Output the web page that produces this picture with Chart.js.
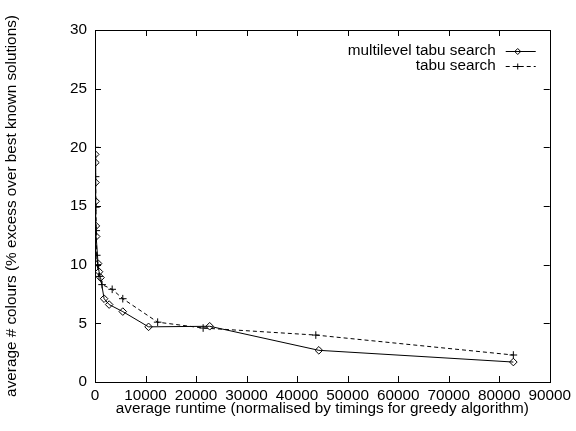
<!DOCTYPE html>
<html>
<head>
<meta charset="utf-8">
<script src="https://cdn.jsdelivr.net/npm/chart.js@4.4.1/dist/chart.umd.min.js"></script>
<style>
  html, body { margin: 0; padding: 0; background: #fff; }
  canvas { display: block; }
</style>
</head>
<body>
<canvas id="chart" width="576" height="431"></canvas>
<script>
// --- data ---
var multiX = [50, 80, 100, 130, 180, 230, 600, 800, 1100, 1800, 2800, 5500, 10600, 22700, 44300, 82800];
var multiY = [19.4, 18.7, 17.0, 15.4, 13.3, 12.4, 10.1, 9.4, 8.9, 7.1, 6.6, 6.0, 4.7, 4.75, 2.7, 1.7];
var tabuX = [60, 120, 180, 250, 350, 500, 800, 1400, 3400, 5500, 12400, 21400, 43700, 82800];
var tabuY = [20.0, 17.5, 14.9, 12.9, 10.8, 10.0, 9.0, 8.3, 7.9, 7.1, 5.1, 4.6, 4.0, 2.3];
var seriesNames = ['multilevel tabu search', 'tabu search'];
var xTitle = 'average runtime (normalised by timings for greedy algorithm)';
var yTitle = 'average # colours (% excess over best known solutions)';

var FONT = "'Liberation Sans', Arial, Helvetica, sans-serif";
var FS = 15.3;

function pts(xs, ys) {
  return xs.map(function (x, i) { return { x: x, y: ys[i] }; });
}

// frame + gnuplot style inner ticks + legend
var gnuplotFrame = {
  id: 'gnuplotFrame',
  afterDraw: function (chart) {
    var ctx = chart.ctx, a = chart.chartArea;
    var xs = chart.scales.x, ys = chart.scales.y;
    var tl = 6;
    ctx.save();
    ctx.strokeStyle = '#000';
    ctx.lineWidth = 1;
    ctx.strokeRect(Math.round(a.left) + 0.5, Math.round(a.top) + 0.5,
      Math.round(a.right - a.left), Math.round(a.bottom - a.top));
    ctx.beginPath();
    xs.ticks.forEach(function (t) {
      var px = Math.round(xs.getPixelForValue(t.value)) + 0.5;
      ctx.moveTo(px, a.bottom); ctx.lineTo(px, a.bottom - tl);
      ctx.moveTo(px, a.top); ctx.lineTo(px, a.top + tl);
    });
    ys.ticks.forEach(function (t) {
      var py = Math.round(ys.getPixelForValue(t.value)) + 0.5;
      ctx.moveTo(a.left, py); ctx.lineTo(a.left + tl, py);
      ctx.moveTo(a.right, py); ctx.lineTo(a.right - tl, py);
    });
    ctx.stroke();

    // legend, text right aligned, sample to the right
    ctx.font = FS + 'px ' + FONT;
    ctx.fillStyle = '#000';
    ctx.textAlign = 'right';
    ctx.textBaseline = 'middle';
    chart.data.datasets.forEach(function (ds, i) {
      var y = 51 + i * 15;
      ctx.fillText(ds.label, a.right - 54, y);
      ctx.beginPath();
      ctx.setLineDash(ds.borderDash || []);
      ctx.moveTo(a.right - 44, y + 0.5);
      ctx.lineTo(a.right - 14, y + 0.5);
      ctx.stroke();
      ctx.setLineDash([]);
      ctx.fillStyle = 'rgba(0,0,0,0)';
      Chart.helpers.drawPoint(ctx, {
        pointStyle: ds.pointStyle, radius: ds.pointRadius - 0.8,
        borderWidth: 1, rotation: 0
      }, a.right - 32, y + 0.5);
      ctx.fillStyle = '#000';
    });
    ctx.restore();
  }
};

new Chart(document.getElementById('chart'), {
  type: 'scatter',
  data: {
    datasets: [{
      label: seriesNames[0],
      data: pts(multiX, multiY),
      showLine: true,
      borderColor: '#000',
      backgroundColor: 'rgba(0,0,0,0)',
      borderWidth: 1,
      pointStyle: 'rectRot',
      pointRadius: 3.8,
      pointBorderWidth: 1,
      tension: 0
    }, {
      label: seriesNames[1],
      data: pts(tabuX, tabuY),
      showLine: true,
      borderColor: '#000',
      backgroundColor: 'rgba(0,0,0,0)',
      borderWidth: 1,
      borderDash: [4, 3],
      pointStyle: 'cross',
      pointRadius: 3.8,
      pointBorderWidth: 1,
      tension: 0
    }]
  },
  options: {
    responsive: false,
    animation: false,
    devicePixelRatio: 1,
    layout: { padding: { left: 0, top: 30, right: 26, bottom: 0 } },
    plugins: { legend: { display: false }, tooltip: { enabled: false } },
    scales: {
      x: {
        type: 'linear', min: 0, max: 90000,
        afterFit: function (s) { s.height = 49; },
        grid: { drawOnChartArea: false, drawTicks: false },
        border: { display: false },
        ticks: {
          stepSize: 10000, autoSkip: false, maxRotation: 0, padding: 5,
          color: '#000', font: { family: FONT, size: FS },
          callback: function (v) { return String(v); }
        },
        title: {
          display: true, text: xTitle, color: '#000',
          font: { family: FONT, size: FS }, padding: { top: 2, bottom: 13.5 }
        }
      },
      y: {
        type: 'linear', min: 0, max: 30,
        afterFit: function (s) { s.width = 95; },
        grid: { drawOnChartArea: false, drawTicks: false },
        border: { display: false },
        ticks: {
          stepSize: 5, padding: 8,
          color: '#000', font: { family: FONT, size: FS }
        },
        title: {
          display: true, text: yTitle, color: '#000',
          font: { family: FONT, size: FS }, padding: { top: 3, bottom: 4 }
        }
      }
    }
  },
  plugins: [gnuplotFrame]
});
</script>
</body>
</html>
